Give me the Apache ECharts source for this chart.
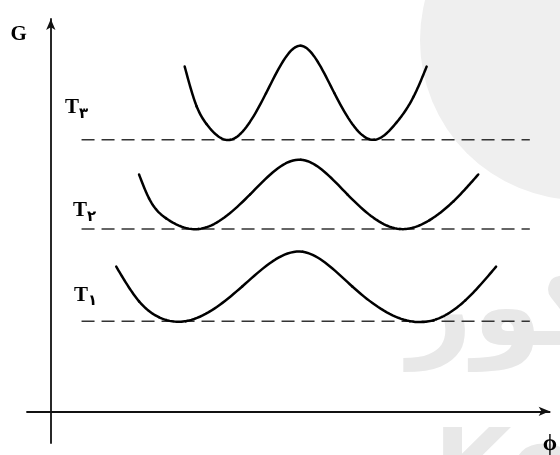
<!DOCTYPE html>
<html>
<head>
<meta charset="utf-8">
<script src="https://cdn.jsdelivr.net/npm/echarts@6/dist/echarts.min.js"></script>
<style>
  html, body { margin: 0; padding: 0; background: #fff; }
  #main { width: 560px; height: 455px; }
</style>
</head>
<body>
<div id="main"></div>
<script>
// points (phi, G)
const t1Phi = [6.6, 8.9, 10.9, 13.6, 19.3, 25.4, 30.4, 36.2, 38.9, 41.8, 44.9];
const t1G = [14.6, 11.1, 9.5, 9.1, 12.6, 16.1, 12.6, 9.1, 9.3, 11.2, 14.6];

const t2Phi = [8.9, 9.9, 11.6, 14.9, 20.1, 25.2, 29.9, 35.2, 38.2, 40.6, 43.1];
const t2G = [23.9, 21.5, 19.5, 18.4, 21.9, 25.4, 21.9, 18.4, 19.3, 21.2, 23.9];

const t3Phi = [13.5, 14.7, 15.7, 18.1, 21.7, 25.2, 28.6, 32.6, 34.9, 36.6, 37.9];
const t3G = [34.8, 30.8, 29.0, 27.4, 32.1, 36.9, 32.1, 27.4, 29.2, 31.8, 34.8];

// dashed base lines
const baseLevels = [9.1, 18.4, 27.4];
const baseFrom = 3.1;
const baseTo = 48.3;
const levelDigits = ['۱', '۲', '۳'];

const zip = (a, b) => a.map((v, i) => [v, b[i]]);

// natural cubic spline (second derivatives) so the curves pass smoothly through the points
function splineM(xs, ys) {
  const n = xs.length;
  const m = new Array(n).fill(0);
  const a = [], b = [], c = [], d = [];
  for (let i = 1; i < n - 1; i++) {
    const h0 = xs[i] - xs[i - 1], h1 = xs[i + 1] - xs[i];
    a[i] = h0; b[i] = 2 * (h0 + h1); c[i] = h1;
    d[i] = 6 * ((ys[i + 1] - ys[i]) / h1 - (ys[i] - ys[i - 1]) / h0);
  }
  for (let i = 2; i < n - 1; i++) {
    const w = a[i] / b[i - 1];
    b[i] -= w * c[i - 1];
    d[i] -= w * d[i - 1];
  }
  for (let i = n - 2; i >= 1; i--) {
    m[i] = (d[i] - (i < n - 2 ? c[i] * m[i + 1] : 0)) / b[i];
  }
  return m;
}

function splineAt(xs, ys, m, i, x) {
  const h = xs[i + 1] - xs[i];
  const l = xs[i + 1] - x, r = x - xs[i];
  return (m[i] * l * l * l + m[i + 1] * r * r * r) / (6 * h) +
    (ys[i] / h - m[i] * h / 6) * l + (ys[i + 1] / h - m[i + 1] * h / 6) * r;
}

function curveSeries(xs, ys) {
  const m = splineM(xs, ys);
  return {
    type: 'custom',
    data: zip(xs, ys),
    encode: { x: 0, y: 1 },
    z: 3,
    silent: true,
    renderItem: function (params, api) {
      const i = params.dataIndex;
      if (i >= xs.length - 1) return null;
      const pts = [];
      for (let k = 0; k <= 20; k++) {
        const x = xs[i] + (xs[i + 1] - xs[i]) * k / 20;
        pts.push(api.coord([x, splineAt(xs, ys, m, i, x)]));
      }
      return {
        type: 'polyline',
        shape: { points: pts },
        style: { stroke: '#000', lineWidth: 2.5, fill: null, lineCap: 'round', lineJoin: 'round' }
      };
    }
  };
}

const chart = echarts.init(document.getElementById('main'), null, { renderer: 'canvas' });

// label offsets for T1, T2, T3 from the start of each dashed line
const labelOffsets = [[4, -26], [3, -18], [-5, -32]];

const series = [
  curveSeries(t1Phi, t1G),
  curveSeries(t2Phi, t2G),
  curveSeries(t3Phi, t3G)
];

baseLevels.forEach((lvl, i) => {
  series.push({
    type: 'line',
    data: [[baseFrom, lvl], [baseTo, lvl]],
    symbol: 'none',
    lineStyle: { color: '#333', width: 1.5, type: [13, 7] },
    z: 2,
    markPoint: {
      symbol: 'circle',
      symbolSize: 0,
      silent: true,
      label: {
        show: true,
        position: 'inside',
        offset: labelOffsets[i],
        formatter: '{t|T}{s|' + levelDigits[i] + '}',
        rich: {
          t: { fontFamily: 'Liberation Serif', fontWeight: 'bold', fontSize: 21, color: '#000' },
          s: { fontFamily: 'DejaVu Sans', fontWeight: 'bold', fontSize: 15, color: '#000', padding: [12, 0, 0, 0] }
        }
      },
      data: [{ coord: [baseFrom, lvl] }]
    }
  });
});

const axisCommon = {
  type: 'value',
  axisTick: { show: false },
  axisLabel: { show: false },
  splitLine: { show: false },
  axisLine: {
    show: true,
    onZero: true,
    symbol: ['none', 'arrow'],
    symbolSize: [7, 11],
    lineStyle: { color: '#111', width: 1.8 }
  },
  nameTextStyle: { fontFamily: 'Liberation Serif', fontWeight: 'bold', fontSize: 21, color: '#000' }
};

const option = {
  animation: false,
  backgroundColor: '#fff',
  grid: { left: 27, right: 6, top: 19, bottom: 8 },
  xAxis: Object.assign({}, axisCommon, {
    min: -2.4,
    max: 50.3,
    name: 'ϕ',
    nameLocation: 'end',
    nameGap: -7,
    nameTextStyle: Object.assign({}, axisCommon.nameTextStyle, { fontSize: 23, verticalAlign: 'top', padding: [21, 0, 0, 0] })
  }),
  yAxis: Object.assign({}, axisCommon, {
    min: -3.2,
    max: 39.6,
    name: 'G',
    nameLocation: 'end',
    nameGap: -26,
    nameTextStyle: Object.assign({}, axisCommon.nameTextStyle, { align: 'right', padding: [0, 24, 0, 0] })
  }),
  graphic: [
    // faint watermark behind the plot
    { type: 'circle', z: -10, silent: true, shape: { cx: 580, cy: 40, r: 160 }, style: { fill: '#efefef' } },
    { type: 'text', z: -10, silent: true, x: 408, y: 372,
      style: { text: 'کنکور', font: 'bold 112px "DejaVu Sans"', fill: '#e8e8e8', align: 'left', verticalAlign: 'bottom' } },
    { type: 'text', z: -10, silent: true, x: 434, y: 424,
      style: { text: 'Ko', font: 'bold 100px "DejaVu Sans"', fill: '#e8e8e8', align: 'left', verticalAlign: 'top' } }
  ],
  series: series
};

chart.setOption(option);
</script>
</body>
</html>
